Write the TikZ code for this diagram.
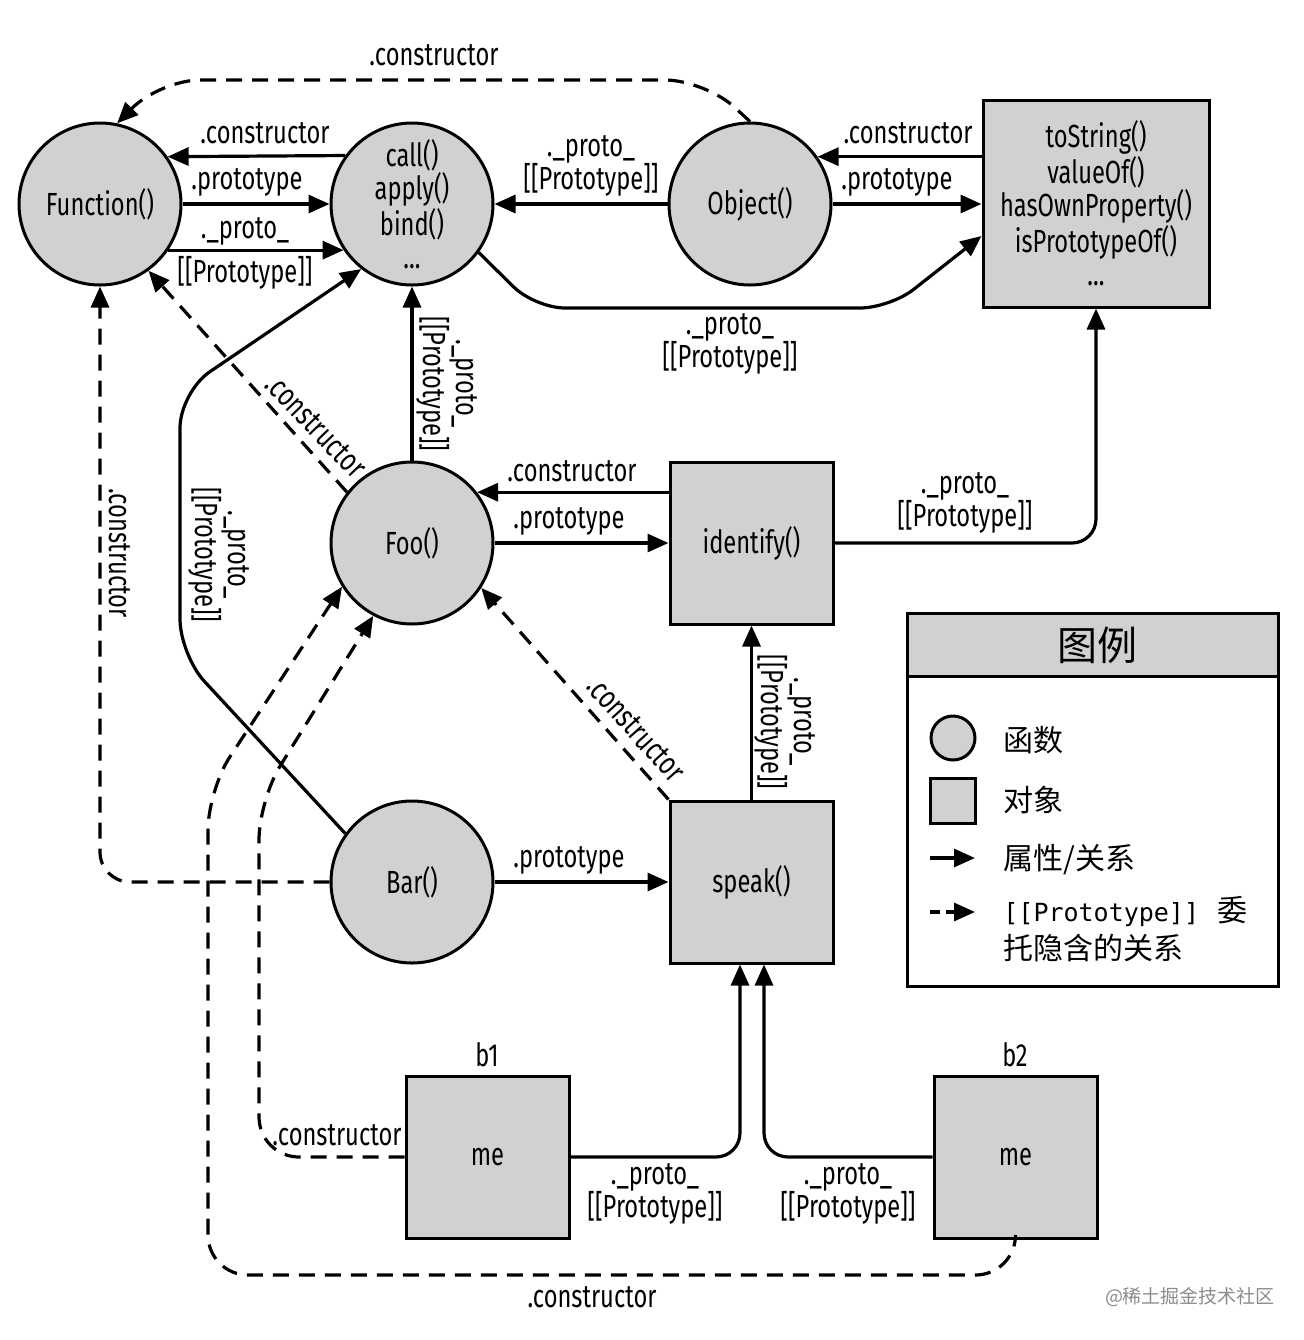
\documentclass[tikz,border=0pt]{standalone}
\usepackage{fontspec}
\setmainfont{Fira Sans}[FakeStretch=0.74]
\newfontfamily\cjk{Noto Sans CJK SC}
\newfontfamily\monof{DejaVu Sans Mono}
\usetikzlibrary{arrows.meta}
\definecolor{fillgray}{RGB}{209,209,209}
\newcommand\PP{[[Prototype]]}
\begin{document}
\begin{tikzpicture}[x=0.5pt,y=-0.5pt,
  every node/.style={font=\fontsize{16}{16.5}\selectfont},
  fn/.style={circle, draw, line width=1.5pt, fill=fillgray, minimum size=81pt, inner sep=0pt, align=center},
  obj/.style={rectangle, draw, line width=1.5pt, fill=fillgray, minimum width=81.5pt, minimum height=81pt, inner sep=0pt, align=center},
  arr/.style={line width=1.6pt, -{Triangle[length=10.5pt,width=9pt]}},
  darr/.style={arr, dash pattern=on 8pt off 5pt},
  lbl/.style={inner sep=0pt, align=center},
  leg/.style={inner sep=0pt, anchor=west, font=\cjk\fontsize{15}{18}\selectfont},
]
\useasboundingbox (0,0) rectangle (1304,1340);
% nodes
\node[fn] (Function) at (100,204) {Function()};
\node[fn] (call) at (412,204) {call()\\apply()\\bind()\\...};
\node[fn] (Object) at (750,204) {Object()};
\node[obj, minimum width=113pt, minimum height=103.5pt] (box) at (1096,203.5) {toString()\\valueOf()\\hasOwnProperty()\\isPrototypeOf()\\...};
\node[fn] (Foo) at (412,543) {Foo()};
\node[obj] (identify) at (751.5,543) {identify()};
\node[fn] (Bar) at (412,882) {Bar()};
\node[obj] (speak) at (751.5,882) {speak()};
\node[obj] (b1) at (487.5,1157) {me};
\node[obj] (b2) at (1015.5,1157) {me};
\node[lbl] (b1n) at (487,1055) {b1};
\node[lbl] (b2n) at (1015,1055) {b2};

% top row connectors
\draw[darr, rounded corners=20pt] (Object.north) -- (705,80) -- (160,80) -- (Function.78);
\node[lbl] (l1) at (434,55) {.constructor};
\draw[arr] (call.144.5) -- (Function.35.5);
\node[lbl] (l2) at (265,133) {.constructor};
\draw[arr] (Function.east) -- (call.west);
\node[lbl] (l3) at (247,182) {.prototype};
\draw[arr] (Function.-34.6) -- (call.214.6);
\node[lbl] (l4) at (245,231) {.\_proto\_};
\node[lbl] (l5) at (245,273) {\PP};
\draw[arr] (Object.west) -- (call.east);
\node[lbl] (l6) at (591,166) {.\_proto\_\\\PP};
\draw[arr] (box.west |- Object.35.5) -- (Object.35.5);
\node[lbl] (l7) at (908,133) {.constructor};
\draw[arr] (Object.east) -- (box.west |- Object.east);
\node[lbl] (l8) at (897,182) {.prototype};
\draw[arr, rounded corners=15pt] (call.-36) -- (535,308) -- (890,308) -- (box.west |- 0,236);
\node[lbl] (l9) at (730,344) {.\_proto\_\\\PP};

% Foo connectors
\draw[arr] (Foo.north) -- (call.south);
\node[lbl, rotate=-90] (l10) at (447,384) {.\_proto\_\\\PP};
\draw[darr] (Foo.142) -- (Function.-54.8);
\node[lbl, rotate=-46] (l11) at (316,426) {.constructor};
\draw[arr] (identify.west |- Foo.38.1) -- (Foo.38.1);
\node[lbl] (l12) at (572,471) {.constructor};
\draw[arr] (Foo.east) -- (identify.west);
\node[lbl] (l13) at (569,521) {.prototype};
\draw[arr, rounded corners=12pt] (identify.east) -| (box.south);
\node[lbl] (l14) at (965,503) {.\_proto\_\\\PP};

% Bar connectors
\draw[arr, rounded corners=18pt] (Bar.144.5) -- (180,655) -- (180,392) -- (call.232.6);
\node[lbl, rotate=-90] (l15) at (219,555) {.\_proto\_\\\PP};
\draw[darr, rounded corners=15pt] (Bar.west) -| (Function.south);
\node[lbl, rotate=-90] (l16) at (120,553) {.constructor};
\draw[arr] (Bar.east) -- (speak.west);
\node[lbl] (l17) at (569,860) {.prototype};

% speak connectors
\draw[arr] (speak.north) -- (identify.south);
\node[lbl, rotate=-90] (l18) at (785,722) {.\_proto\_\\\PP};
\draw[darr] (speak.north west) -- (Foo.-33);
\node[lbl, rotate=-48] (l19) at (636,729) {.constructor};

% b1, b2
\draw[arr, rounded corners=12pt] (b1.east) -| ([xshift=-5.75pt]speak.south);
\node[lbl] (l20) at (655,1194) {.\_proto\_\\\PP};
\draw[arr, rounded corners=12pt] (b2.west) -| ([xshift=6.25pt]speak.south);
\node[lbl] (l21) at (848,1194) {.\_proto\_\\\PP};
\draw[darr, rounded corners=20pt] (b1.west) -- (259,1157) -- (259,800) -- (Foo.242);
\node[lbl] (l22) at (337,1135) {.constructor};
\draw[darr, rounded corners=20pt] (b2.south) -- (1015.5,1275) -- (208,1275) -- (208,790) -- (Foo.212);
\node[lbl] (l23) at (592,1297) {.constructor};

% legend
\fill[fillgray] (907,613) rectangle (1278,676);
\draw[line width=1.5pt] (907,676) -- (1278,676);
\draw[line width=1.5pt] (907,613) rectangle (1278,986);
\node[inner sep=0pt, font=\cjk\fontsize{20}{22}\selectfont] (legt) at (1097,645) {图例};
\node[circle, draw, line width=1.5pt, fill=fillgray, minimum size=22pt, inner sep=0pt] (legc) at (953,738) {};
\node[leg] (legct) at (1003,740) {函数};
\node[rectangle, draw, line width=1.5pt, fill=fillgray, minimum size=22.5pt, inner sep=0pt] (legs) at (952.5,800.5) {};
\node[leg] (legst) at (1003,800) {对象};
\coordinate (la1) at (930,858);
\coordinate (la2) at (975,858);
\draw[arr] (la1) -- (la2);
\node[leg] (legat) at (1003,860) {属性/关系};
\coordinate (ld1) at (930,912);
\coordinate (ld2) at (975,912);
\draw[arr, dash pattern=on 5pt off 3pt] (ld1) -- (ld2);
\node[leg] (legdt) at (1003,912) {{\monof\fontsize{12.5}{14}\selectfont [[Prototype]]}\hspace{9pt}委};
\node[leg] (legdt2) at (1003,948) {托隐含的关系};

% watermark
\node[inner sep=0pt, text=black!45, font=\cjk\fontsize{9.5}{11}\selectfont] (wm) at (1190,1297) {@稀土掘金技术社区};
\end{tikzpicture}
\end{document}
